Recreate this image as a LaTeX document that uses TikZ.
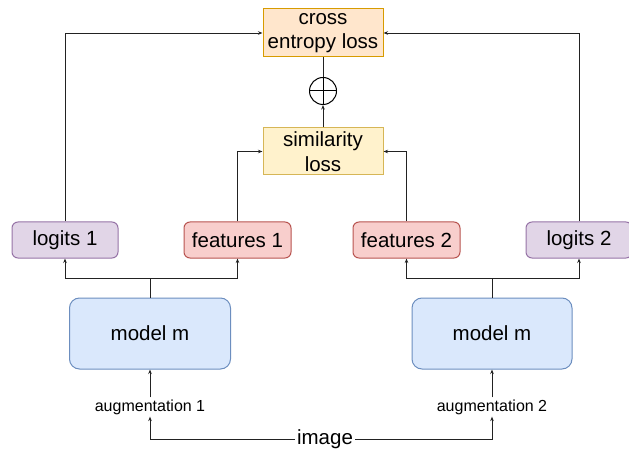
\documentclass[tikz,border=0pt]{standalone}
\usepackage{fontspec}
\setmainfont{Liberation Sans}
\usetikzlibrary{arrows.meta}
\definecolor{ceF}{HTML}{FFE6CC}\definecolor{ceD}{HTML}{D79B00}
\definecolor{smF}{HTML}{FFF2CC}\definecolor{smD}{HTML}{D6B656}
\definecolor{lgF}{HTML}{E1D5E7}\definecolor{lgD}{HTML}{9673A6}
\definecolor{ftF}{HTML}{F8CECC}\definecolor{ftD}{HTML}{B85450}
\definecolor{mdF}{HTML}{DAE8FC}\definecolor{mdD}{HTML}{6C8EBF}
\definecolor{ln}{HTML}{222222}
\tikzset{
  box/.style={draw, line width=1pt, inner sep=0pt, align=center, font=\fontsize{20.5}{24.5}\selectfont},
  lossbox/.style={box, minimum width=120pt, minimum height=47pt},
  small/.style={box, rounded corners=6pt, minimum height=36pt},
  modelbox/.style={box, rounded corners=10pt, minimum width=160pt, minimum height=71pt, fill=mdF, draw=mdD},
  lbl/.style={inner sep=2pt, font=\fontsize{16}{18}\selectfont},
  conn/.style={draw=ln, line width=0.9pt},
  arr/.style={conn, -{Stealth[length=4.5pt,width=3.5pt]}}
}
\begin{document}
\begin{tikzpicture}[x=1pt,y=-1pt]
\useasboundingbox (0,0) rectangle (629,449);
\node[lossbox, fill=ceF, draw=ceD, minimum height=48pt] (ce) at (323,33) {cross\\entropy loss};
\node[lossbox, fill=smF, draw=smD] (sim) at (323,151.5) {similarity\\loss};
\node[draw=black, line width=1pt, circle, minimum size=27pt, inner sep=0pt] (op) at (323,91) {};
\draw[line width=1pt] (op.north) -- (op.south) (op.west) -- (op.east);
\draw[arr] (sim) -- (op);
\draw[conn] (op) -- (ce);

\node[small, fill=lgF, draw=lgD, minimum width=106pt] (lg1) at (65,240) {logits 1};
\node[small, fill=ftF, draw=ftD, minimum width=107pt] (ft1) at (237.5,240) {features 1};
\node[small, fill=ftF, draw=ftD, minimum width=107pt] (ft2) at (406.5,240) {features 2};
\node[small, fill=lgF, draw=lgD, minimum width=106pt] (lg2) at (579,240) {logits 2};

\node[modelbox, minimum width=161pt] (m1) at (150,333.5) {model m};
\node[modelbox] (m2) at (492,333.5) {model m};

\node[lbl] (a1) at (150,407) {augmentation 1};
\node[lbl] (a2) at (492,407) {augmentation 2};
\node[font=\fontsize{20.5}{24}\selectfont, inner sep=2pt] (img) at (325,439) {image};

\coordinate (b1) at (150,278);
\coordinate (b2) at (492,278);

\draw[arr] (img.west) -| (a1);
\draw[arr] (img.east) -| (a2);
\draw[arr] (a1) -- (m1);
\draw[arr] (a2) -- (m2);
\draw[conn] (m1) -- (b1);
\draw[conn] (m2) -- (b2);
\draw[arr] (b1) -| (lg1);
\draw[arr] (b1) -| (ft1);
\draw[arr] (b2) -| (ft2);
\draw[arr] (b2) -| (lg2);
\draw[arr] (lg1) |- (ce);
\draw[arr] (lg2) |- (ce);
\draw[arr] (ft1) |- (sim);
\draw[arr] (ft2) |- (sim);
\end{tikzpicture}
\end{document}
